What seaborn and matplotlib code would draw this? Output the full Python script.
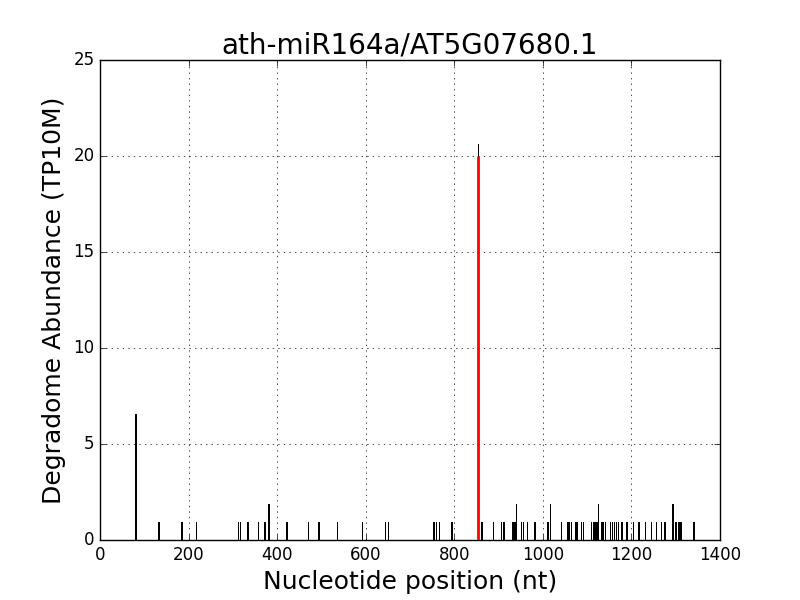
import matplotlib
matplotlib.use("Agg")
import matplotlib.pyplot as plt
import seaborn as sns
import pandas as pd

# degradome tag positions (nt) and abundance (TP10M)
positions = [80, 132, 184, 217, 312, 316, 333, 357, 371, 380, 421, 470, 493, 535,
             592, 644, 650, 753, 759, 765, 794, 854, 861, 888, 905, 911, 930, 933,
             936, 939, 951, 955, 964, 981, 1009, 1012, 1016, 1041, 1056, 1058, 1063,
             1073, 1076, 1086, 1091, 1109, 1114, 1118, 1121, 1125, 1131, 1135, 1140,
             1152, 1156, 1161, 1165, 1170, 1178, 1189, 1204, 1216, 1231, 1244, 1255,
             1267, 1275, 1293, 1300, 1306, 1311, 1340]
abundance = [6.56, 0.94, 0.94, 0.94, 0.94, 0.94, 0.94, 0.94, 0.94, 1.88, 0.94, 0.94,
             0.94, 0.94, 0.94, 0.94, 0.94, 0.94, 0.94, 0.94, 0.94, 20.63, 0.94, 0.94,
             0.94, 0.94, 0.94, 0.94, 0.94, 1.88, 0.94, 0.94, 0.94, 0.94, 0.94, 0.94,
             1.88, 0.94, 0.94, 0.94, 0.94, 0.94, 0.94, 0.94, 0.94, 0.94, 0.94, 0.94,
             0.94, 1.88, 0.94, 0.94, 0.94, 0.94, 0.94, 0.94, 0.94, 0.94, 0.94, 0.94,
             0.94, 0.94, 0.94, 0.94, 0.94, 0.94, 0.94, 1.88, 0.94, 0.94, 0.94, 0.94]

# predicted cleavage site
site_pos = [854]
site_val = [20.0]

df = pd.DataFrame({"pos": positions, "val": abundance})

plt.style.use("classic")
fig = plt.figure(figsize=(8, 6), dpi=100)
ax = fig.add_subplot(111)

sns.histplot(data=df, x="pos", weights="val", discrete=True, color="black",
             edgecolor="black", linewidth=0.6, alpha=1, antialiased=False, ax=ax)
ax.vlines(site_pos, 0, site_val, color="red", linewidth=2, zorder=3)

ax.set_xlim(0, 1400)
ax.set_ylim(0, 25)
ax.grid(True)
ax.set_axisbelow(True)
ax.set_title("ath-miR164a/AT5G07680.1", fontsize=20)
ax.set_xlabel("Nucleotide position (nt)", fontsize=18)
ax.set_ylabel("Degradome Abundance (TP10M)", fontsize=18)

plt.savefig("out.png", dpi=100)
